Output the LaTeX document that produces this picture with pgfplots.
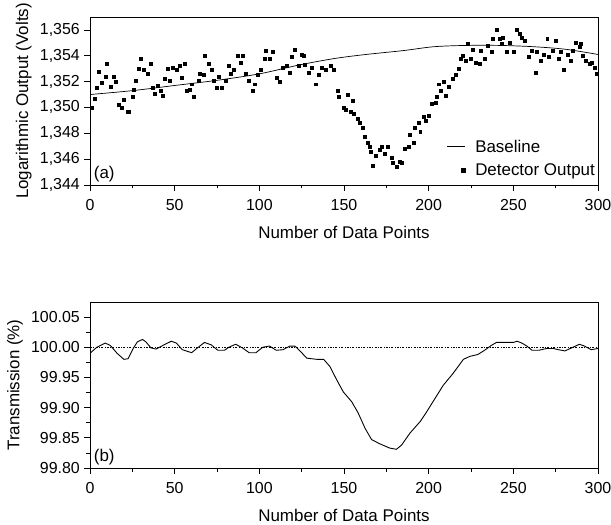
\documentclass[border=0pt]{standalone}
\usepackage{pgfplots}
\pgfplotsset{compat=1.18}
\usepackage{fontspec}
\setmainfont{Liberation Sans}
\begin{document}
\fontsize{12}{14}\selectfont
\begin{tikzpicture}
\path[use as bounding box] (0,0) rectangle (611bp,525bp);
\pgfplotsset{
  every axis/.append style={
    scale only axis, width=508bp, height=168bp,
    xmin=0, xmax=300, xtick={0,50,...,300}, minor x tick num=1,
    tick align=outside, xtick pos=bottom, ytick pos=left,
    major tick length=6bp, minor tick length=3.5bp,
    tick style={black, line width=0.8pt},
    axis line style={line width=0.9pt},
    /pgf/number format/assume math mode=true,
    tick label style={font=\fontsize{16}{18}\selectfont},
    xticklabel style={yshift=-4bp},
    label style={font=\fontsize{17}{19}\selectfont},
    xlabel={Number of Data Points},
    xlabel style={yshift=-8bp},
  }
}
\begin{axis}[
  at={(90bp,508bp)}, anchor=north west,
  ymin=1.344, ymax=1.357, ytick={1.344,1.346,...,1.3561}, minor y tick num=1,
  yticklabel style={/pgf/number format/.cd, fixed, fixed zerofill, precision=3, use comma},
  ylabel={Logarithmic Output (Volts)},
  legend style={draw=none, fill=none, at={(1,0.02)}, anchor=south east,
    font=\fontsize{17}{19}\selectfont, row sep=6bp, inner xsep=1pt, inner ysep=2pt},
  legend cell align=left,
  legend image code/.code={\draw[#1] (0cm,0cm) -- (0.63cm,0cm);},
]
\addplot[black, line width=0.7pt, smooth] coordinates {
(0,1.3510) (25,1.3513) (50,1.3517) (75,1.3521) (100,1.3526) (124,1.3533) (145,1.3538) (163,1.3541) (185,1.3544) (203,1.3547) (222,1.3548) (242,1.3548) (262,1.3547) (281,1.3545) (300,1.3541)
};
\addlegendentry{\hspace{8bp}Baseline}
\addplot[only marks, mark=square*, mark size=1.5pt, black,
  legend image code/.code={\draw[black, fill=black] (0.5cm,-0.07cm) rectangle (0.63cm,0.07cm);}] coordinates {
(1,1.3500) (3,1.3507) (4,1.3515) (5,1.3528) (7,1.3519) (9,1.3524) (10,1.3534) (12,1.3516) (14,1.3524) (15,1.3520)
(17,1.3502) (19,1.3500) (20,1.3506) (22,1.3497) (23,1.3497) (25,1.3508) (26,1.3514) (27,1.3521) (29,1.3530) (30,1.3538)
(32,1.3529) (34,1.3526) (36,1.3534) (37,1.3515) (38,1.3511) (40,1.3517) (42,1.3513) (43,1.3509) (44,1.3522) (46,1.3530)
(47,1.3521) (49,1.3531) (51,1.3529) (53,1.3532) (54,1.3523) (56,1.3534) (57,1.3513) (59,1.3514) (60,1.3518) (61,1.3508)
(64,1.3521) (65,1.3526) (67,1.3525) (68,1.3540) (70,1.3534) (72,1.3529) (73,1.3521) (75,1.3515) (76,1.3524) (78,1.3515)
(80,1.3521) (82,1.3532) (83,1.3526) (85,1.3529) (87,1.3540) (89,1.3535) (90,1.3540) (92,1.3526) (94,1.3521) (96,1.3513)
(97,1.3518) (99,1.3525) (101,1.3529) (103,1.3538) (104,1.3544) (106,1.3538) (108,1.3543) (110,1.3523) (112,1.3520) (114,1.3531)
(116,1.3532) (118,1.3527) (119,1.3539) (121,1.3545) (123,1.3532) (125,1.3541) (126,1.3540) (127,1.3533) (129,1.3527) (131,1.3531)
(133,1.3518) (135,1.3525) (137,1.3531) (139,1.3529) (142,1.3532) (144,1.3529) (146,1.3513) (147,1.3508) (150,1.3500) (151,1.3498)
(152,1.3510) (154,1.3497) (155,1.3505) (156,1.3495) (158,1.3491) (159,1.3488) (161,1.3484) (162,1.3477) (164,1.3473) (165,1.3470)
(166,1.3466) (167,1.3455) (169,1.3463) (171,1.3467) (172,1.3470) (174,1.3464) (176,1.3470) (178,1.3461) (179,1.3457) (181,1.3454)
(183,1.3458) (184,1.3457) (186,1.3468) (188,1.3470) (189,1.3479) (191,1.3473) (192,1.3484) (194,1.3488) (195,1.3481) (197,1.3493)
(198,1.3490) (200,1.3494) (202,1.3503) (204,1.3504) (205,1.3508) (206,1.3518) (207,1.3513) (209,1.3520) (210,1.3509) (212,1.3516)
(214,1.3522) (216,1.3525) (218,1.3530) (219,1.3538) (220,1.3540) (222,1.3536) (223,1.3549) (225,1.3538) (226,1.3545) (228,1.3535)
(230,1.3534) (231,1.3544) (233,1.3538) (235,1.3548) (237,1.3543) (238,1.3553) (240,1.3560) (242,1.3553) (243,1.3549) (244,1.3554)
(246,1.3543) (248,1.3550) (250,1.3543) (252,1.3560) (254,1.3557) (255,1.3554) (257,1.3552) (259,1.3539) (261,1.3544) (263,1.3527)
(264,1.3543) (266,1.3536) (268,1.3541) (270,1.3553) (271,1.3539) (273,1.3544) (275,1.3552) (277,1.3538) (278,1.3543) (280,1.3529)
(282,1.3541) (284,1.3536) (285,1.3544) (287,1.3550) (289,1.3547) (290,1.3549) (291,1.3540) (293,1.3536) (295,1.3534) (296,1.3535)
(298,1.3531) (299,1.3526)
};
\addlegendentry{\hspace{8bp}Detector Output}
\node[anchor=south west, font=\fontsize{17}{19}\selectfont, inner sep=2pt] at (axis cs:1,1.3441) {(a)};
\end{axis}
\begin{axis}[
  at={(90bp,223bp)}, anchor=north west, height=166bp,
  ymin=99.8, ymax=100.075, ytick={99.80,99.85,...,100.06}, minor y tick num=1,
  yticklabel style={/pgf/number format/.cd, fixed, fixed zerofill, precision=2},
  ylabel={Transmission (\%)},
]
\addplot[black, line width=0.5pt, dash pattern=on 2pt off 1.5pt on 0.6pt off 1.5pt] coordinates {(0,100) (300,100)};
\addplot[black, line width=0.9pt] coordinates {
(0,99.990) (4,100.000) (9,100.007) (12,100.003) (16,99.990) (20,99.980) (22.5,99.981) (25.5,99.998) (28,100.009) (31,100.013)
(33,100.009) (36,99.999) (39,99.997) (43,100.003) (48,100.010) (51,100.007) (54.5,99.996) (60,99.991) (63,99.998) (67.6,100.008)
(71.6,100.004) (75.5,99.995) (79.4,99.995) (82,100.000) (86,100.005) (90,99.999) (94,99.991) (98,99.991) (102,100.000) (106,100.002)
(110,99.995) (114,99.996) (118,100.002) (121,100.002) (124,99.994) (128,99.982) (134,99.980) (138,99.980) (141.7,99.968) (145.7,99.946)
(149.6,99.926) (154.5,99.910) (158.4,99.891) (162.4,99.866) (166.3,99.847) (171.2,99.840) (177,99.833) (181,99.831) (184,99.838) (189,99.858)
(195,99.877) (198.8,99.893) (203.7,99.915) (208.6,99.937) (214.5,99.957) (220.5,99.980) (224.4,99.985) (229,99.988) (233,99.995) (237,100.003)
(240,100.008) (245,100.008) (250,100.008) (252.3,100.010) (255,100.007) (258,100.002) (261,99.995) (265,99.995) (269.7,99.998) (273.6,99.998)
(276.6,99.996) (280.5,99.994) (284.4,99.999) (289,100.005) (292,100.002) (296,99.996) (300,99.998)
};
\node[anchor=south west, font=\fontsize{17}{19}\selectfont, inner sep=2pt] at (axis cs:1,99.801) {(b)};
\end{axis}
\end{tikzpicture}
\end{document}
